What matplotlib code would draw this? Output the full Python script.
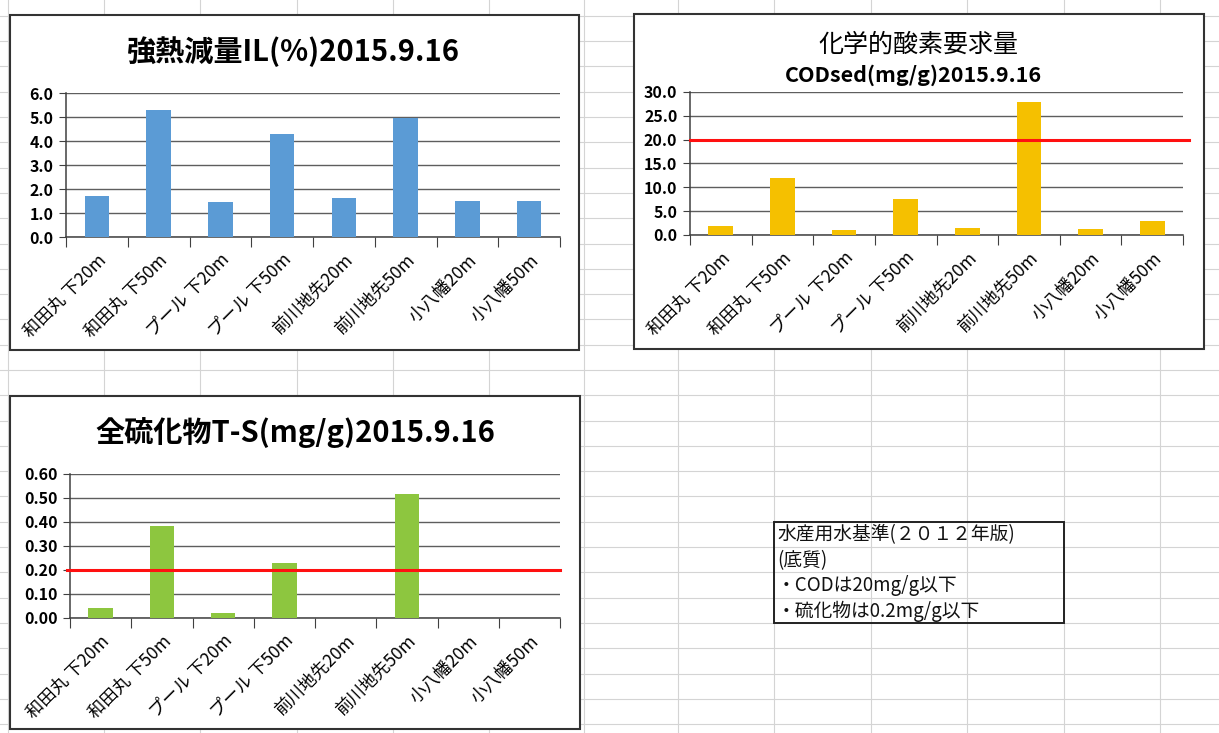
import numpy as np
import matplotlib
matplotlib.use("Agg")
import matplotlib.pyplot as plt
from matplotlib.patches import Rectangle
from matplotlib.ticker import FormatStrFormatter, FixedLocator

plt.rcParams['font.family'] = ['Noto Sans CJK JP', 'DejaVu Sans']

# data
sites = ["和田丸 下20m", "和田丸 下50m", "プール 下20m", "プール 下50m",
         "前川地先20m", "前川地先50m", "小八幡20m", "小八幡50m"]
il_values = [1.70, 5.30, 1.45, 4.30, 1.62, 4.95, 1.48, 1.48]
cod_values = [1.8, 12.0, 1.1, 7.6, 1.4, 27.8, 1.2, 2.9]
ts_values = [0.042, 0.385, 0.020, 0.228, 0.0, 0.515, 0.0, 0.0]
cod_limit = 20.0
ts_limit = 0.20
note_lines = ["水産用水基準(２０１２年版)", "(底質)",
              "・CODは20mg/g以下", "・硫化物は0.2mg/g以下"]

W, H = 1219, 733
fig = plt.figure(figsize=(W / 100, H / 100), dpi=100)


def fig_rect(l, t, r, b):
    return [l / W, 1 - b / H, (r - l) / W, (b - t) / H]


# spreadsheet background
bg = fig.add_axes([0, 0, 1, 1], zorder=0)
bg.set_xlim(0, W)
bg.set_ylim(H, 0)
bg.axis('off')
col_lines = [8, 104, 200, 297, 393, 489, 584, 678, 774, 871, 967, 1064, 1160]
for cx in col_lines:
    bg.axvline(cx, color='#d4d4d4', lw=0.8)
for ry in np.arange(370 - 25.3 * 14, H, 25.3):
    bg.axhline(ry, color='#d4d4d4', lw=0.8)

frames = [(9.5, 15, 579, 350), (633.5, 14, 1204, 349), (9.5, 396, 580, 729)]
for l, t, r, b in frames:
    bg.add_patch(Rectangle((l, t), r - l, b - t, facecolor='white',
                           edgecolor='#333333', lw=1.5, zorder=2))

# note box
bg.add_patch(Rectangle((774, 522), 290, 101, facecolor='none',
                       edgecolor='#222222', lw=1.4, zorder=3))
for i, line in enumerate(note_lines):
    bg.text(777, 535 + i * 25.3, line, fontsize=13.5, va='center',
            ha='left', color='#111111', zorder=4)


def draw_chart(rect, values, color, ymax, ystep, fmt, limit=None, lim_x=(-0.5, 7.5)):
    ax = fig.add_axes(fig_rect(*rect), zorder=3)
    ax.patch.set_alpha(0)
    x = np.arange(len(sites))
    ax.bar(x, values, width=0.4, color=color, zorder=3)
    ax.set_xlim(-0.5, len(sites) - 0.5)
    ax.set_ylim(0, ymax)
    ax.set_yticks(np.arange(0, ymax + ystep / 2, ystep))
    ax.yaxis.set_major_formatter(FormatStrFormatter(fmt))
    ax.grid(axis='y', color='#5e5e5e', lw=1, zorder=1)
    for s in ['top', 'right']:
        ax.spines[s].set_visible(False)
    for s in ['left', 'bottom']:
        ax.spines[s].set_color('#404040')
        ax.spines[s].set_linewidth(1.1)
    # excel style: ticks between categories, labels at centers
    ax.xaxis.set_major_locator(FixedLocator(np.arange(-0.5, len(sites), 1.0)))
    ax.xaxis.set_minor_locator(FixedLocator(x))
    ax.set_xticklabels([], minor=False)
    ax.set_xticklabels(sites, minor=True, rotation=45, ha='right',
                       rotation_mode='anchor', fontsize=12.5)
    ax.tick_params(axis='x', which='major', length=7, color='#404040')
    ax.tick_params(axis='x', which='minor', length=0, pad=10)
    ax.tick_params(axis='y', length=5, color='#404040', pad=4)
    for lab in ax.get_yticklabels():
        lab.set_fontweight('bold')
        lab.set_fontsize(11.5)
    if limit is not None:
        ax.plot(lim_x, [limit, limit], color='#ff1010', lw=2.2, zorder=4,
                clip_on=False)
    return ax


draw_chart((66, 93, 560, 237), il_values, '#5b9bd5', 6.0, 1.0, '%.1f')
draw_chart((690, 92, 1183, 235), cod_values, '#f5c000', 30.0, 5.0, '%.1f',
           limit=cod_limit, lim_x=(-0.5, 7.6))
draw_chart((70, 474, 560, 618), ts_values, '#8dc63f', 0.6, 0.1, '%.2f',
           limit=ts_limit, lim_x=(-0.55, 7.5))

# titles
fig.text(293 / W, 1 - 52 / H, "強熱減量IL(%)2015.9.16", fontsize=21,
         fontweight='bold', ha='center', va='center')
fig.text(918 / W, 1 - 45 / H, "化学的酸素要求量", fontsize=18,
         ha='center', va='center')
fig.text(913 / W, 1 - 75 / H, "CODsed(mg/g)2015.9.16", fontsize=15.5,
         fontweight='bold', ha='center', va='center')
fig.text(295 / W, 1 - 433 / H, "全硫化物T-S(mg/g)2015.9.16", fontsize=21,
         fontweight='bold', ha='center', va='center')

fig.savefig("out.png", dpi=100)
